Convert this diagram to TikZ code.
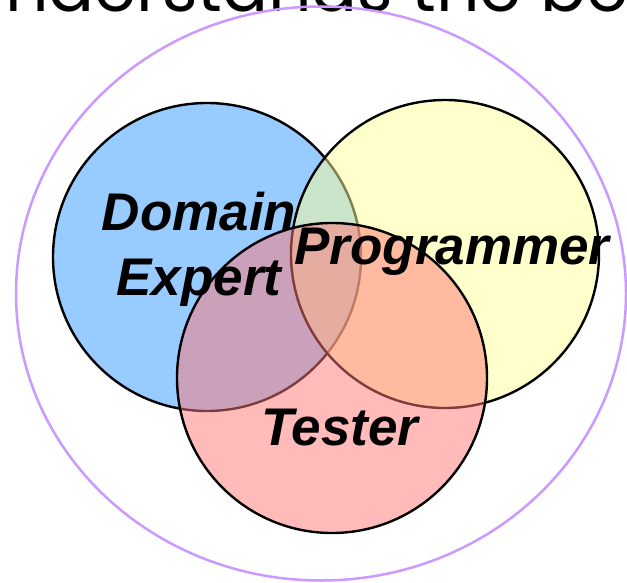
\documentclass[tikz,border=0pt]{standalone}
\usepackage{fontspec}
\setmainfont{Liberation Sans}
\newfontfamily\headfont{Poppins}
\definecolor{domainblue}{RGB}{51,153,255}
\definecolor{progyellow}{RGB}{255,255,153}
\definecolor{testerpink}{RGB}{255,119,119}
\definecolor{rimpurple}{RGB}{204,153,255}
\tikzset{
  setcircle/.style={draw=black, line width=2.4pt, fill opacity=0.5},
  rolelabel/.style={font=\fontsize{53}{65}\selectfont\bfseries\itshape, text=black, inner sep=0pt, align=center},
}
\begin{document}
\begin{tikzpicture}[x=1pt, y=-1pt]
  \useasboundingbox (0,0) rectangle (627,583);
  \clip (0,0) rectangle (627,583);
  \fill[white] (0,0) rectangle (627,583);

  % heading line, partly outside the frame
  \node[anchor=base west, inner sep=0pt, font=\headfont\fontsize{68}{80}\selectfont] (heading) at (5,12) {nderstands the be};

  % enclosing ellipse
  \draw[rimpurple, line width=2.5pt] (321,293.5) ellipse [x radius=305pt, y radius=287pt];

  % the three roles
  \path[setcircle, fill=domainblue] (207,257) circle [radius=154pt];
  \path[setcircle, fill=progyellow] (445,254) circle [radius=154pt];
  \path[setcircle, fill=testerpink] (332,378) circle [radius=155pt];

  \node[rolelabel, anchor=base] (domain) at (199,295) {Domain\\Expert};
  \node[rolelabel, anchor=base] (prog) at (452,265) {Programmer};
  \node[rolelabel, anchor=base] (tester) at (340,445) {Tester};
\end{tikzpicture}
\end{document}
